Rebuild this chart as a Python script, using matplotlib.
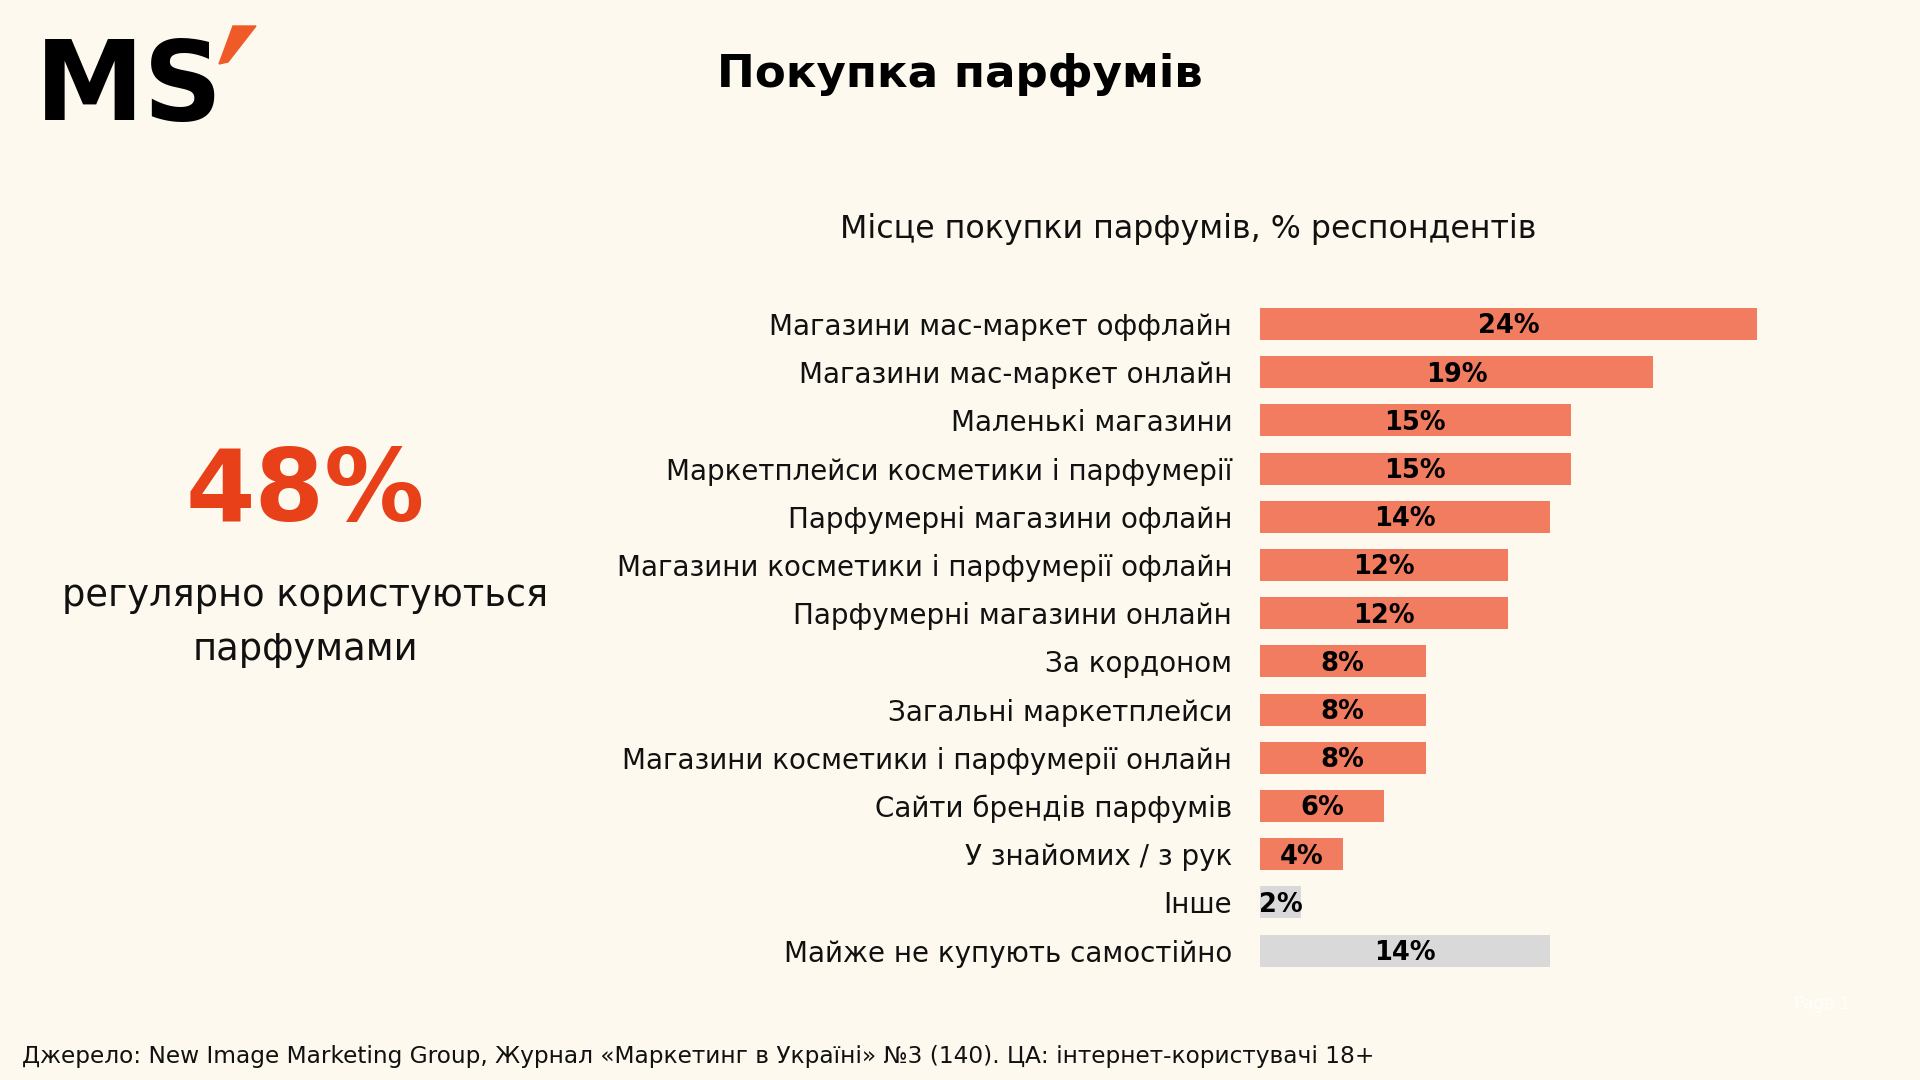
import matplotlib.pyplot as plt
from matplotlib.patches import Polygon

BG = "#FEF9EE"
BAR = "#F27C60"
GREY = "#D9D9D9"
RED = "#E8411A"

categories = [
    "Магазини мас-маркет оффлайн",
    "Магазини мас-маркет онлайн",
    "Маленькі магазини",
    "Маркетплейси косметики і парфумерії",
    "Парфумерні магазини офлайн",
    "Магазини косметики і парфумерії офлайн",
    "Парфумерні магазини онлайн",
    "За кордоном",
    "Загальні маркетплейси",
    "Магазини косметики і парфумерії онлайн",
    "Сайти брендів парфумів",
    "У знайомих / з рук",
    "Інше",
    "Майже не купують самостійно",
]
values = [24, 19, 15, 15, 14, 12, 12, 8, 8, 8, 6, 4, 2, 14]
grey_rows = ["Інше", "Майже не купують самостійно"]

W, H = 1920, 1080


def px(x, y):
    return x / W, 1 - y / H


fig = plt.figure(figsize=(19.2, 10.8), dpi=100, facecolor=BG)
plt.rcParams["font.family"] = ["DejaVu Sans"]

# logo
fig.text(*px(35, 120), "MS", fontsize=79, fontweight="heavy", color="black",
         ha="left", va="baseline")
logo_pts = [(233, 26), (256, 26), (228, 62), (219, 64)]
fig.patches.append(Polygon([px(x, y) for x, y in logo_pts], closed=True,
                           transform=fig.transFigure, color="#F05A28"))

fig.text(*px(960, 74), "Покупка парфумів", fontsize=32.5, fontweight="bold",
         ha="center", va="center")
fig.text(*px(1188, 229), "Місце покупки парфумів, % респондентів", fontsize=22.8,
         ha="center", va="center", color="#111111")

fig.text(*px(305, 493), "48%", fontsize=72, fontweight="bold", color=RED,
         ha="center", va="center")
fig.text(*px(305, 595), "регулярно користуються", fontsize=26.5,
         ha="center", va="center", color="#111111")
fig.text(*px(305, 650), "парфумами", fontsize=26.5,
         ha="center", va="center", color="#111111")

fig.text(*px(22, 1057), "Джерело: New Image Marketing Group, Журнал «Маркетинг в Україні» "
         "№3 (140). ЦА: інтернет-користувачі 18+", fontsize=16.75,
         ha="left", va="center", color="#111111")
fig.text(*px(1822, 1004), "Page 1", fontsize=12, ha="center", va="center",
         color="white", alpha=0.9)

# bar chart
row_h = 48.2
top = 324 - row_h / 2
bottom = top + row_h * len(categories)
ax = fig.add_axes([1260 / W, 1 - bottom / H, 660 / W, (bottom - top) / H])
ax.set_facecolor("none")
ypos = list(range(len(categories)))
colors = [GREY if c in grey_rows else BAR for c in categories]
ax.barh(ypos, values, height=0.66, color=colors, edgecolor="none")
for y, v in zip(ypos, values):
    ax.text(v / 2, y + 0.05, f"{v}%", ha="center", va="center", fontsize=18.5,
            fontweight="heavy", color="black")
ax.set_xlim(0, 660 / 20.7)
ax.set_ylim(len(categories) - 0.5, -0.5)
ax.set_yticks(ypos)
ax.set_yticklabels(categories, fontsize=20, color="#111111")
ax.tick_params(axis="y", length=0, pad=20)
ax.set_xticks([])
for s in ax.spines.values():
    s.set_visible(False)

fig.savefig("out.png", dpi=100, facecolor=BG)
